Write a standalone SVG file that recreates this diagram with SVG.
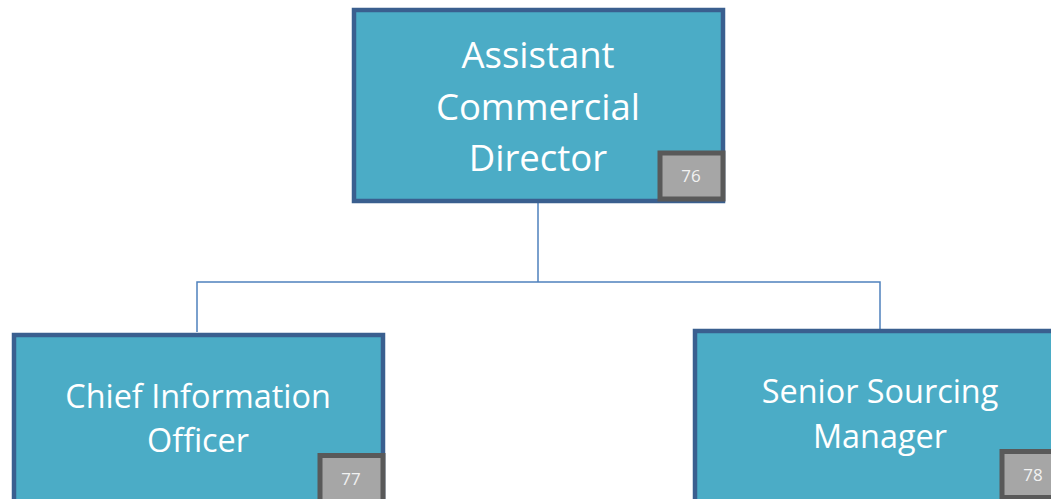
<svg xmlns="http://www.w3.org/2000/svg" width="1051" height="499" viewBox="0 0 1051 499">
<style>
.box{fill:#4bacc6;stroke:#3a5f8f;stroke-width:4.5}
.badge{fill:#a6a6a6;stroke:#595959;stroke-width:5}
.t{font-family:"Open Sans","Liberation Sans",sans-serif;fill:#ffffff;text-anchor:middle}
.big{font-size:36.5px}
.mid{font-size:32.4px}
.num{font-family:"Open Sans","Liberation Sans",sans-serif;font-size:17px;fill:#f2f2f2;text-anchor:middle}
.conn{fill:none;stroke:#4f81bd;stroke-width:1.5}
</style>
<rect width="1051" height="499" fill="#ffffff"/>
<g id="connectors">
<path class="conn" d="M538 202 V282 M197 332 V282 H880 V329"/>
</g>
<g id="node76">
<rect class="box" x="354" y="10" width="369" height="191"/>
<text class="t big" x="538" y="68">Assistant</text>
<text class="t big" x="538" y="120">Commercial</text>
<text class="t big" x="538" y="171">Director</text>
<rect class="badge" x="660" y="153" width="63" height="46"/>
<text class="num" x="691" y="182">76</text>
</g>
<g id="node77">
<rect class="box" x="14" y="335" width="369" height="180"/>
<text class="t mid" x="198" y="408">Chief Information</text>
<text class="t mid" x="198" y="452">Officer</text>
<rect class="badge" x="320" y="455.5" width="63" height="46"/>
<text class="num" x="351" y="485">77</text>
</g>
<g id="node78">
<rect class="box" x="695" y="331" width="369" height="180"/>
<text class="t mid" x="880" y="403">Senior Sourcing</text>
<text class="t mid" x="880" y="448">Manager</text>
<rect class="badge" x="1002" y="451.5" width="63" height="46"/>
<text class="num" x="1033" y="481">78</text>
</g>
</svg>
